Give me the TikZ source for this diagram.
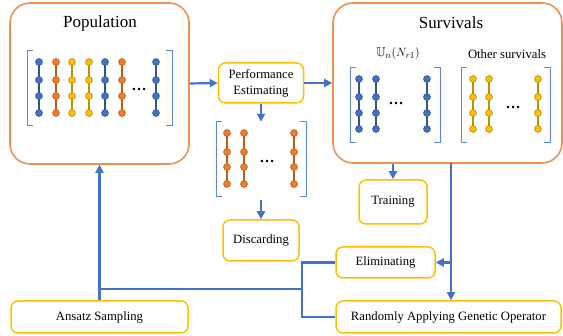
\documentclass[tikz,border=0pt]{standalone}
\usepackage{amsmath,amssymb}
\usepackage{fontspec}
\setmainfont{Liberation Serif}
\usetikzlibrary{arrows.meta}
\definecolor{arrblue}{HTML}{4472C4}
\definecolor{brblue}{HTML}{5B87D6}
\definecolor{boxorange}{HTML}{F0904F}
\definecolor{boxyellow}{HTML}{FFC000}
\definecolor{qbfill}{HTML}{4472C4}
\definecolor{qbline}{HTML}{2F5597}
\definecolor{qofill}{HTML}{ED7D31}
\definecolor{qoline}{HTML}{C55A11}
\definecolor{qyfill}{HTML}{FFC000}
\definecolor{qyline}{HTML}{BF9000}
\newcommand\qcol[2]{%
  \draw[#2line, line width=1.3pt] (#1,\rA) -- (#1,\rD);
  \foreach \yy in {\rA,\rB,\rC,\rD}
    \filldraw[fill=#2fill, draw=#2line, line width=0.7pt] (#1,\yy) circle (3.4pt);
}
\newcommand\qbrack[4]{%
  \draw[brk] (#1+6,#3) -- (#1,#3) -- (#1,#4) -- (#1+6,#4);
  \draw[brk] (#2-6,#3) -- (#2,#3) -- (#2,#4) -- (#2-6,#4);
}
\begin{document}
\begin{tikzpicture}[x=1pt,y=-1pt,
  bigbox/.style={draw=boxorange, line width=1.6pt, rounded corners=20pt, inner sep=0pt},
  smallbox/.style={draw=boxyellow, line width=1.5pt, rounded corners=7pt, inner sep=0pt,
    align=center, font=\rmfamily\fontsize{12.7}{16}\selectfont},
  lbl/.style={font=\rmfamily\fontsize{12.7}{15}\selectfont, inner sep=0pt},
  ttl/.style={font=\rmfamily\fontsize{17}{20}\selectfont, inner sep=0pt},
  dotsym/.style={font=\rmfamily\fontsize{15}{16}\selectfont\bfseries, inner sep=0pt},
  flow/.style={draw=arrblue, line width=2.2pt, -{Triangle[length=8pt,width=8pt]}},
  link/.style={draw=arrblue, line width=2.2pt},
  brk/.style={draw=brblue, line width=1pt},
]
\useasboundingbox (0,0) rectangle (563,336);

% big boxes
\node[bigbox, minimum width=179pt, minimum height=161pt] (pop) at (99.5,83.5) {};
\node[bigbox, minimum width=229pt, minimum height=160pt] (surv) at (447.5,83) {};
\node[ttl] (popt) at (100,23) {Population};
\node[ttl] (survt) at (451,23) {Survivals};

% small boxes
\node[smallbox, minimum width=85pt, minimum height=40pt] (perf) at (261,83) {Performance\\Estimating};
\node[smallbox, minimum width=76pt, minimum height=41pt] (disc) at (261,240.5) {Discarding};
\node[smallbox, minimum width=68pt, minimum height=44pt] (train) at (393,202) {Training};
\node[smallbox, minimum width=99pt, minimum height=31pt] (elim) at (385.5,262.5) {Eliminating};
\node[smallbox, minimum width=225pt, minimum height=32pt] (rand) at (448.5,317) {Randomly Applying Genetic Operator};
\node[smallbox, minimum width=177pt, minimum height=32pt] (ans) at (99.5,317) {Ansatz Sampling};

% population circuits
\def\rA{62}\def\rB{80}\def\rC{96}\def\rD{113}
\qbrack{27}{172}{51}{126}
\qcol{39}{qb}\qcol{56}{qo}\qcol{72}{qy}\qcol{89}{qy}\qcol{105}{qb}\qcol{122}{qo}\qcol{156}{qb}
\node[dotsym] (pdots) at (139,90) {…};

% discarded circuits
\node[minimum width=90pt, minimum height=75pt, inner sep=0pt] (mid) at (261,159.5) {};
\def\rA{133}\def\rB{152}\def\rC{167}\def\rD{184}
\qbrack{216}{306}{122}{197}
\qcol{227}{qo}\qcol{244}{qo}\qcol{294}{qo}
\node[dotsym] (mdots) at (267,162) {…};

% survivals circuits
\node[lbl] (ulab) at (398,54) {$\mathbb{U}_n(N_{r1})$};
\node[lbl] (olab) at (507,54) {Other survivals};
\def\rA{79}\def\rB{97}\def\rC{113}\def\rD{129}
\qbrack{350}{440}{68}{143}
\qcol{359}{qb}\qcol{376}{qb}\qcol{427}{qb}
\node[dotsym] (sdots) at (396,104) {…};
\qbrack{461}{550}{68}{143}
\qcol{473}{qy}\qcol{489}{qy}\qcol{538}{qy}
\node[dotsym] (ydots) at (513,108) {…};

% connectors
\draw[flow] (pop.east) -- (perf.west);
\draw[flow] (perf.east) -- (surv.west);
\draw[flow] (perf.south) -- (mid.north);
\draw[flow] ([yshift=-3pt]mid.south) -- (disc.north);
\draw[flow] (train.north |- surv.south) -- (train.north);
\coordinate (sj) at (451,163);
\draw[flow] (sj) -- (sj |- rand.north);
\draw[flow] (sj |- elim.east) -- (elim.east);
\coordinate (jt) at (302,289);
\draw[link] (elim.west) -| (jt |- rand.west) -- (rand.west);
\draw[link] (jt) -- (jt -| ans.north);
\draw[flow] (ans.north) -- (pop.south);
\end{tikzpicture}
\end{document}
